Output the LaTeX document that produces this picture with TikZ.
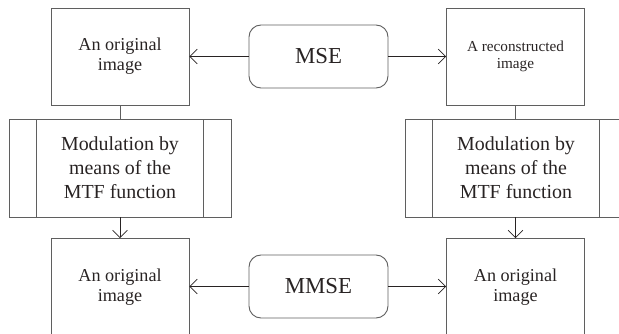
\documentclass[tikz,border=0pt]{standalone}
\usepackage{fontspec}
\setmainfont{Liberation Serif}
\usepackage{tikz}
\usetikzlibrary{arrows.meta}
\definecolor{box_gray}{RGB}{95, 95, 95}
\definecolor{txt_dark}{RGB}{40, 35, 35}
\tikzstyle{imgbox}=[rectangle,draw=box_gray,line width=0.8pt,text=txt_dark,
  align=center,minimum width=41.4mm,minimum height=29.1mm,inner sep=0pt]
\tikzstyle{errbox}=[rectangle,rounded corners=3.6mm,draw=box_gray,line width=0.8pt,
  text=txt_dark,minimum width=41.7mm,minimum height=18.9mm,inner sep=0pt,
  font=\fontsize{19.5}{23}\selectfont]
\tikzstyle{procbox}=[rectangle,draw=box_gray,line width=0.8pt,text=txt_dark,
  align=center,minimum width=66.6mm,minimum height=29.4mm,inner sep=0pt,
  font=\fontsize{17}{20.4}\selectfont,
  path picture={
    \draw[box_gray,line width=0.8pt] ([xshift=8.3mm]path picture bounding box.north west)
      -- ([xshift=8.3mm]path picture bounding box.south west);
    \draw[box_gray,line width=0.8pt] ([xshift=-8.3mm]path picture bounding box.north east)
      -- ([xshift=-8.3mm]path picture bounding box.south east);}]
\tikzstyle{link}=[line width=0.6pt,draw=txt_dark,-{Straight Barb[length=2.2mm,width=4.4mm,line width=0.6pt]}]

\begin{document}
\begin{tikzpicture}[x=0.3mm,y=-0.3mm]
    \useasboundingbox (0,0) rectangle (619,333);
    \clip (0,0) rectangle (619,333);
    \node [style=imgbox,font=\fontsize{15.5}{17}\selectfont] (orig1) at (120,56.5) {An original\\image};
    \node [style=errbox] (mse) at (318.5,56.5) {MSE};
    \node [style=imgbox,font=\fontsize{13}{14.5}\selectfont] (recon) at (515.5,56.5) {A reconstructed\\image};
    \node [style=procbox] (modl) at (120,168) {Modulation by\\means of the\\MTF function};
    \node [style=procbox] (modr) at (516,168) {Modulation by\\means of the\\MTF function};
    \node [style=imgbox,font=\fontsize{15.5}{17}\selectfont] (orig2) at (120,287) {An original\\image};
    \node [style=errbox] (mmse) at (318.5,286.5) {MMSE};
    \node [style=imgbox,font=\fontsize{15.5}{17}\selectfont] (orig3) at (515.5,287) {An original\\image};
    \draw [style=link] (mse) to (orig1);
    \draw [style=link] (mse) to (recon);
    \draw [line width=0.6pt,box_gray] (orig1) to (modl);
    \draw [line width=0.6pt,box_gray] (recon.south) to (recon.south |- modr.north);
    \draw [style=link] (modl) to (orig2);
    \draw [style=link] (recon.south |- modr.south) to (orig3.north);
    \draw [style=link] (mmse.west) to (mmse.west -| orig2.east);
    \draw [style=link] (mmse.east) to (mmse.east -| orig3.west);
\end{tikzpicture}
\end{document}
